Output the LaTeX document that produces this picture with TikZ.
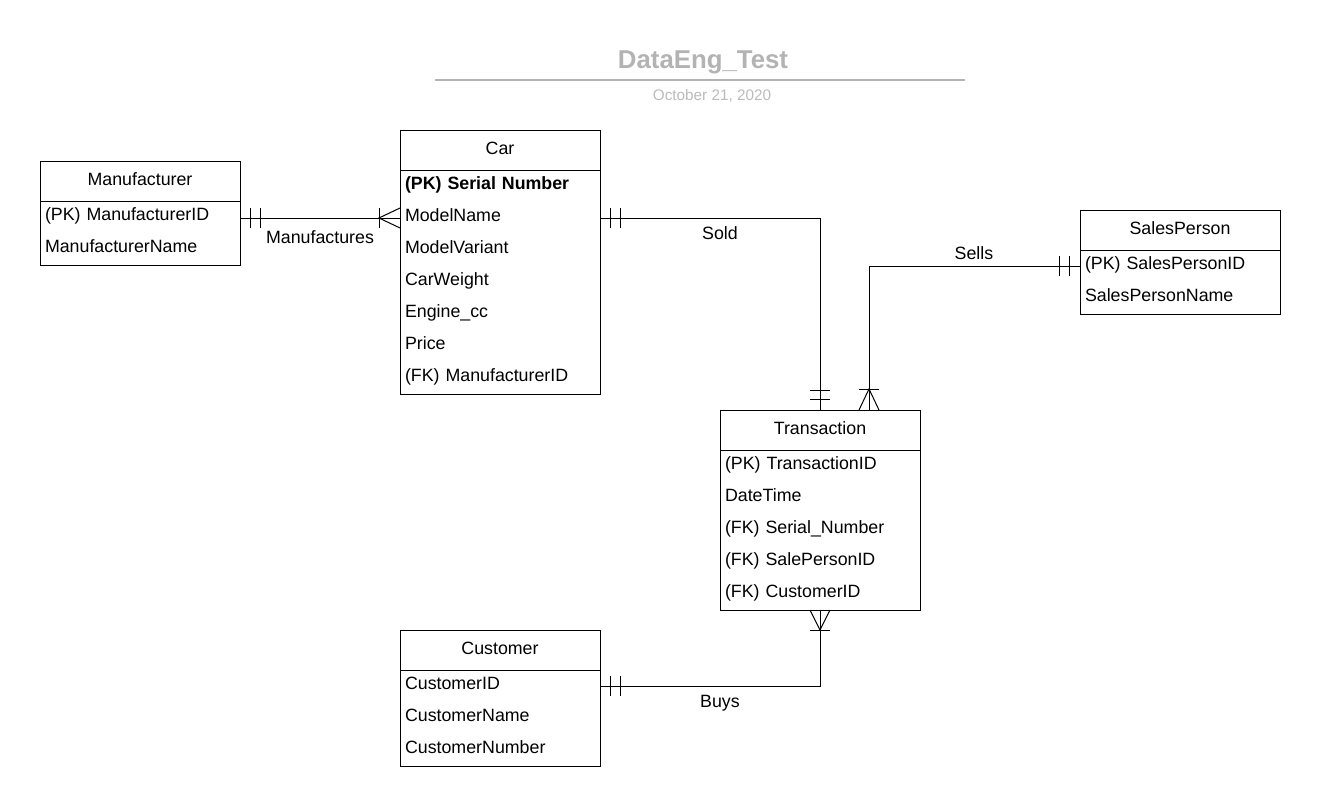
\documentclass[tikz,border=0pt]{standalone}
\usepackage{fontspec}
\setmainfont{Liberation Sans}
\usetikzlibrary{positioning,calc}

\definecolor{titlegray}{HTML}{B3B3B3}
\definecolor{dategray}{HTML}{BBBBBB}

\begin{document}
\begin{tikzpicture}[
        x=1pt, y=-1pt,
        link/.style={line width=1pt},
        header/.style={draw, line width=1pt, minimum width=200pt, minimum height=40pt,
            inner sep=0pt, outer sep=0pt, text height=12.8pt, text depth=4.2pt,
            font=\fontsize{17.8}{20}\selectfont},
        field/.style={minimum width=200pt, minimum height=32pt, inner xsep=5pt,
            inner ysep=0pt, outer sep=0pt, text width=190pt, align=left,
            text height=12.8pt, text depth=6.2pt,
            font=\fontsize{17.8}{20}\selectfont},
        keyfield/.style={field, font=\fontsize{17.8}{20}\selectfont\bfseries},
        rel/.style={font=\fontsize{17.8}{20}\selectfont, anchor=base, inner sep=0pt},
        title/.style={font=\fontsize{25.8}{30}\selectfont\bfseries, text=titlegray, anchor=base},
        date/.style={font=\fontsize{15.3}{18}\selectfont, text=dategray, anchor=base}
    ]

    \useasboundingbox (0,0) rectangle (1320,806);

    % Title block
    \node[title] (title) at (703,68) {DataEng\_Test};
    \draw[titlegray, line width=2pt] (435,80) -- (965,80);
    \node[date] (date) at (712,100.5) {October 21, 2020};

    % Manufacturer
    \begin{scope}
        \node[header] (mfr) at (140,181) {Manufacturer};
        \node[field, below=0pt of mfr] (mfr-r1) {(PK) ManufacturerID};
        \node[field, below=0pt of mfr-r1] (mfr-r2) {ManufacturerName};
        \draw[link] (mfr-r1.north west) rectangle (mfr-r2.south east);
    \end{scope}

    % Car
    \begin{scope}
        \node[header] (car) at (500,150) {Car};
        \node[keyfield, below=0pt of car] (car-r1) {(PK) Serial Number};
        \node[field, below=0pt of car-r1] (car-r2) {ModelName};
        \node[field, below=0pt of car-r2] (car-r3) {ModelVariant};
        \node[field, below=0pt of car-r3] (car-r4) {CarWeight};
        \node[field, below=0pt of car-r4] (car-r5) {Engine\_cc};
        \node[field, below=0pt of car-r5] (car-r6) {Price};
        \node[field, below=0pt of car-r6] (car-r7) {(FK) ManufacturerID};
        \draw[link] (car-r1.north west) rectangle (car-r7.south east);
    \end{scope}

    % SalesPerson
    \begin{scope}
        \node[header] (sp) at (1180,230) {SalesPerson};
        \node[field, below=0pt of sp] (sp-r1) {(PK) SalesPersonID};
        \node[field, below=0pt of sp-r1] (sp-r2) {SalesPersonName};
        \draw[link] (sp-r1.north west) rectangle (sp-r2.south east);
    \end{scope}

    % Transaction
    \begin{scope}
        \node[header] (trans) at (820,430) {Transaction};
        \node[field, below=0pt of trans] (trans-r1) {(PK) TransactionID};
        \node[field, below=0pt of trans-r1] (trans-r2) {DateTime};
        \node[field, below=0pt of trans-r2] (trans-r3) {(FK) Serial\_Number};
        \node[field, below=0pt of trans-r3] (trans-r4) {(FK) SalePersonID};
        \node[field, below=0pt of trans-r4] (trans-r5) {(FK) CustomerID};
        \draw[link] (trans-r1.north west) rectangle (trans-r5.south east);
        \coordinate (trans-sp) at ($(trans.north)+(49,0)$);
    \end{scope}

    % Customer
    \begin{scope}
        \node[header] (cust) at (500,650) {Customer};
        \node[field, below=0pt of cust] (cust-r1) {CustomerID};
        \node[field, below=0pt of cust-r1] (cust-r2) {CustomerName};
        \node[field, below=0pt of cust-r2] (cust-r3) {CustomerNumber};
        \draw[link] (cust-r1.north west) rectangle (cust-r3.south east);
    \end{scope}

    % Manufactures (one to many)
    \draw[link] (car-r2.west) -- (car-r2.west -| mfr-r1.east);
    \draw[link] ($(car-r2.west -| mfr-r1.east)+(10,-10)$) -- ++(0,20);
    \draw[link] ($(car-r2.west -| mfr-r1.east)+(20,-10)$) -- ++(0,20);
    \draw[link] ($(car-r2.west)+(-21,-10)$) -- ++(0,20);
    \draw[link] ($(car-r2.west)+(0,-10)$) -- ++(-21,10) -- ++(21,10);
    \node[rel] (lbl-mfr) at ($(car-r2.west -| mfr-r1.east)+(80,25)$) {Manufactures};

    % Sold (one to one)
    \draw[link] (car-r2.east) -| (trans.north);
    \draw[link] ($(car-r2.east)+(10,-10)$) -- ++(0,20);
    \draw[link] ($(car-r2.east)+(20,-10)$) -- ++(0,20);
    \draw[link] ($(trans.north)+(-10,-11)$) -- ++(20,0);
    \draw[link] ($(trans.north)+(-10,-20)$) -- ++(20,0);
    \node[rel] (lbl-sold) at ($(car-r2.east)+(120,21)$) {Sold};

    % Sells (one to many)
    \draw[link] (sp-r1.west) -| (trans-sp);
    \draw[link] ($(sp-r1.west)+(-21,-10)$) -- ++(0,20);
    \draw[link] ($(sp-r1.west)+(-11,-10)$) -- ++(0,20);
    \draw[link] ($(trans-sp)+(-10,-21)$) -- ++(20,0);
    \draw[link] ($(trans-sp)+(-10,0)$) -- ++(10,-21) -- ++(10,21);
    \node[rel] (lbl-sells) at ($(sp-r1.west)+(-106,-7)$) {Sells};

    % Buys (one to many)
    \draw[link] (cust-r1.east) -| (trans-r5.south);
    \draw[link] ($(cust-r1.east)+(10,-10)$) -- ++(0,20);
    \draw[link] ($(cust-r1.east)+(20,-10)$) -- ++(0,20);
    \draw[link] ($(trans-r5.south)+(-10,20)$) -- ++(20,0);
    \draw[link] ($(trans-r5.south)+(-10,0)$) -- ++(10,20) -- ++(10,-20);
    \node[rel] (lbl-buys) at ($(cust-r1.east)+(120,21)$) {Buys};

\end{tikzpicture}
\end{document}
